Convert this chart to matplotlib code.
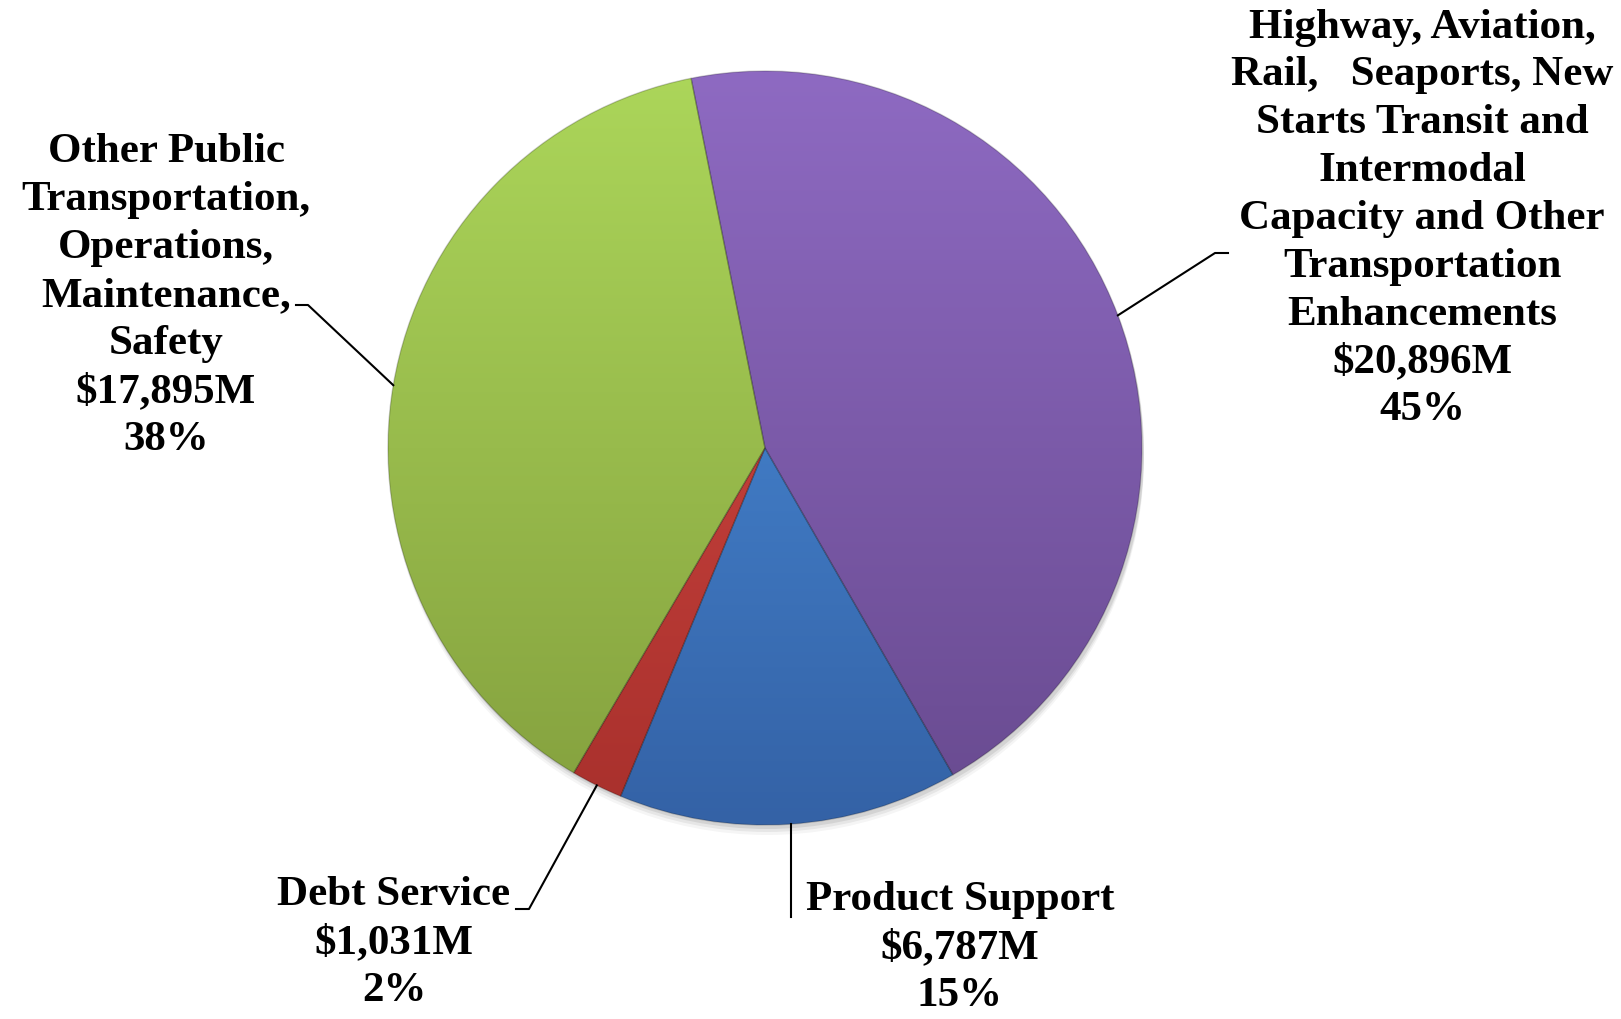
import numpy as np
import matplotlib
matplotlib.use("Agg")
import matplotlib.pyplot as plt
from matplotlib.colors import to_rgb
from matplotlib.patches import Circle

# data
labels = ["Highway, Aviation,\nRail,   Seaports, New\nStarts Transit and\nIntermodal\nCapacity and Other\nTransportation\nEnhancements",
          "Product Support",
          "Debt Service",
          "Other Public\nTransportation,\nOperations,\nMaintenance,\nSafety"]
values = [20896, 6787, 1031, 17895]
value_text = ["$20,896M", "$6,787M", "$1,031M", "$17,895M"]
pct_text = ["45%", "15%", "2%", "38%"]
top_colors = ["#8E6AC2", "#4C92E0", "#D84C46", "#ACD65A"]
bot_colors = ["#684A8F", "#3462A6", "#A8302C", "#84A03E"]

W, H = 1621, 1020
fig = plt.figure(figsize=(W / 100, H / 100), dpi=100)
ax = fig.add_axes([0, 0, 1, 1])

cx, cy, r = 765, H - 449, 377
start = 101.3

# soft shadow under the pie
for k, a in zip([10, 7, 4], [0.04, 0.06, 0.08]):
    ax.add_patch(Circle((cx + 2, cy - k), r, color="black", alpha=a, lw=0, zorder=0))

wedges, _ = ax.pie(values, startangle=start, counterclock=False, center=(cx, cy),
                   radius=r, frame=True,
                   wedgeprops=dict(facecolor="none", edgecolor="none"))

n = 300
for w, c0, c1 in zip(wedges, top_colors, bot_colors):
    t = np.linspace(0, 1, n)[:, None, None]
    img = (1 - t) * np.array(to_rgb(c0)) + t * np.array(to_rgb(c1))
    im = ax.imshow(img, extent=(cx - r, cx + r, cy - r, cy + r), origin="upper",
                   aspect="auto", zorder=1, interpolation="bilinear")
    im.set_clip_path(w)
    w.set_zorder(2)
    w.set_edgecolor((0, 0, 0, 0.2))
    w.set_linewidth(1.0)

# labels and leader lines
font = dict(family="Liberation Serif", weight="bold", size=31, color="black")
label_pos = [(1422, 219), (960, 948), (394, 943), (166, 296)]
elbows = [[(1215, 254), (1228, 254)],
          [(791, 918)],
          [(529, 910), (516, 910)],
          [(308, 306), (296, 306)]]

theta = start
for i, v in enumerate(values):
    span = 360 * v / sum(values)
    mid = np.deg2rad(theta - span / 2)
    theta -= span
    ax0 = cx + r * np.cos(mid)
    ay0 = cy + r * np.sin(mid)
    if i == 1:
        ax0 = elbows[i][0][0]
    xs = [ax0] + [p[0] for p in elbows[i]]
    ys = [ay0] + [H - p[1] for p in elbows[i]]
    ax.plot(xs, ys, color="black", lw=1.5, zorder=3)
    txt = labels[i] + "\n" + value_text[i] + "\n" + pct_text[i]
    ax.text(label_pos[i][0], H - label_pos[i][1], txt, ha="center", va="center",
            linespacing=1.34, zorder=4, **font)

ax.set_xlim(0, W)
ax.set_ylim(0, H)
ax.set_aspect("auto")
ax.axis("off")

fig.savefig("out.png", dpi=100, facecolor="white")
